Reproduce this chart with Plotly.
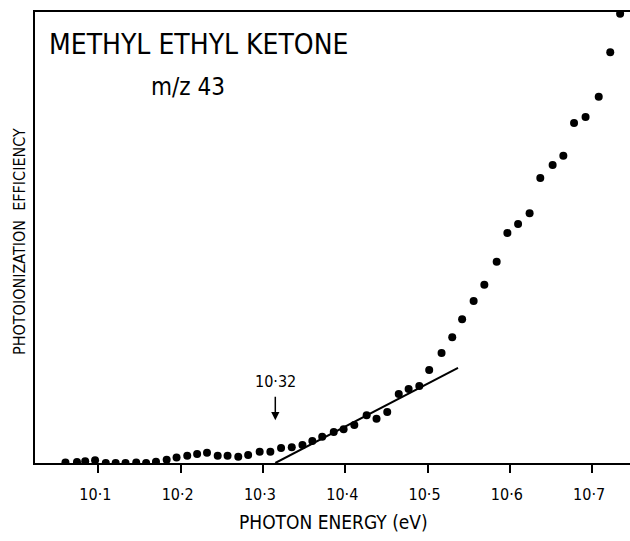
import plotly.graph_objects as go

# Photoionization efficiency curve for the m/z 43 fragment of methyl ethyl ketone
photon_energy = [10.060, 10.074, 10.084, 10.096, 10.109, 10.121, 10.133, 10.146, 10.158,
                 10.170, 10.183, 10.195, 10.208, 10.220, 10.232, 10.245, 10.257, 10.270,
                 10.282, 10.296, 10.309, 10.322, 10.335, 10.348, 10.360, 10.372, 10.386,
                 10.398, 10.411, 10.426, 10.438, 10.451, 10.465, 10.477, 10.490, 10.502,
                 10.517, 10.530, 10.542, 10.556, 10.569, 10.584, 10.597, 10.610, 10.624,
                 10.637, 10.652, 10.665, 10.678, 10.692, 10.708, 10.722, 10.734]
efficiency = [0.1, 0.2, 0.4, 0.6, 0.0, 0.0, 0.0, 0.1, 0.0,
              0.3, 0.7, 1.2, 1.6, 2.0, 2.3, 1.6, 1.6, 1.4,
              1.8, 2.5, 2.5, 3.3, 3.5, 4.0, 4.9, 5.8, 6.9,
              7.5, 8.4, 10.6, 9.8, 11.3, 15.3, 16.4, 17.1, 20.6,
              24.4, 27.9, 31.9, 35.9, 39.5, 44.6, 51.0, 53.0, 55.4,
              63.2, 66.1, 68.1, 75.4, 76.7, 81.2, 91.1, 99.6]

# Linear extrapolation of the onset region
fit_energy = [10.315, 10.537]
fit_efficiency = [0.0, 21.1]

# Onset marked with an arrow
onset_energy = 10.315
onset_label = "10·32"

tick_values = [10.1, 10.2, 10.3, 10.4, 10.5, 10.6, 10.7]
tick_labels = ["10·1", "10·2", "10·3", "10·4", "10·5", "10·6", "10·7"]

FONT = "Liberation Sans Narrow, DejaVu Sans Condensed, Arial Narrow, sans-serif"

fig = go.Figure()

fig.add_trace(go.Scatter(
    x=fit_energy, y=fit_efficiency, mode="lines",
    line=dict(color="black", width=2), showlegend=False, hoverinfo="skip",
))
fig.add_trace(go.Scatter(
    x=photon_energy, y=efficiency, mode="markers",
    marker=dict(color="black", size=8, line=dict(width=0)),
    showlegend=False,
))

# Arrow pointing at the onset
fig.add_annotation(
    x=onset_energy, y=9.5, xref="x", yref="y", text="",
    showarrow=True, arrowhead=2, arrowsize=1.1, arrowwidth=1.5, arrowcolor="black",
    ax=0, ay=-25,
)
fig.add_annotation(
    x=onset_energy, y=18.0, xref="x", yref="y", text=onset_label,
    showarrow=False, font=dict(family=FONT, size=16, color="black"),
    yanchor="middle",
)

# Compound and fragment labels
fig.add_annotation(
    x=0.020, y=0.927, xref="paper", yref="paper", text="METHYL ETHYL KETONE",
    showarrow=False, xanchor="left", yanchor="middle",
    font=dict(family=FONT, size=28, color="black"),
)
fig.add_annotation(
    x=0.257, y=0.834, xref="paper", yref="paper", text="m/z 43",
    showarrow=False, xanchor="center", yanchor="middle",
    font=dict(family=FONT, size=24, color="black"),
)

# Axis titles
fig.add_annotation(
    x=10.386, y=-0.13, xref="x", yref="paper", text="PHOTON ENERGY (eV)",
    showarrow=False, xanchor="center", yanchor="middle",
    font=dict(family=FONT, size=19, color="black"),
)
fig.add_annotation(
    x=-0.027, y=0.492, xref="paper", yref="paper",
    text="PHOTOIONIZATION\u00a0\u00a0EFFICIENCY", textangle=-90,
    showarrow=False, xanchor="center", yanchor="middle",
    font=dict(family=FONT, size=16, color="black"),
)

fig.update_xaxes(
    range=[10.023, 10.746], tickvals=tick_values, ticktext=tick_labels,
    ticks="outside", ticklen=8, tickwidth=2, tickcolor="black",
    showline=True, linewidth=2, linecolor="black", mirror=True,
    showgrid=False, zeroline=False,
    tickfont=dict(family=FONT, size=16, color="black"),
    ticklabelstandoff=8, ticklabelshift=-3,
)
fig.update_yaxes(
    range=[0, 100], showticklabels=False, ticks="",
    showline=True, linewidth=2, linecolor="black",
    showgrid=False, zeroline=False,
)

fig.update_layout(
    width=630, height=541,
    margin=dict(l=35, r=0, t=12, b=78),
    paper_bgcolor="white", plot_bgcolor="white",
    showlegend=False,
)

fig.write_html("out.html")
